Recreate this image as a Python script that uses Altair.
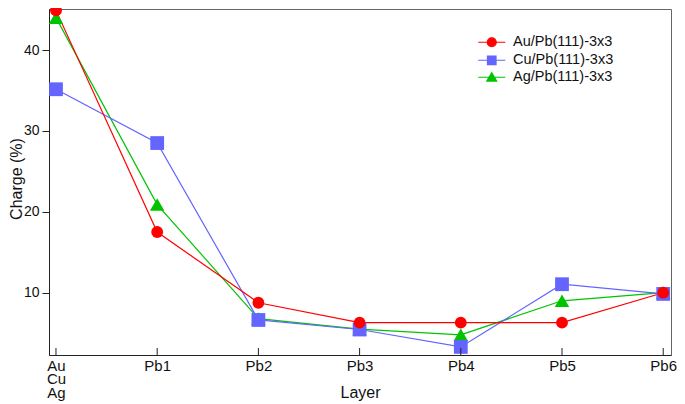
import altair as alt
import pandas as pd

layers_idx = [0, 1, 2, 3, 4, 5, 6]
layer_names = ["Au Cu Ag", "Pb1", "Pb2", "Pb3", "Pb4", "Pb5", "Pb6"]
series_names = ["Au/Pb(111)-3x3", "Cu/Pb(111)-3x3", "Ag/Pb(111)-3x3"]
au_vals = [44.9, 17.5, 8.76, 6.3, 6.3, 6.3, 10.0]
cu_vals = [35.15, 28.5, 6.63, 5.45, 3.3, 11.05, 9.85]
ag_vals = [44.0, 20.9, 6.8, 5.5, 4.8, 9.0, 10.0]
colors = ["#ff0000", "#6464ff", "#00c400"]
shapes = ["circle", "square", "triangle-up"]
sizes = [140, 190, 210]

rows = []
for name, vals in zip(series_names, [au_vals, cu_vals, ag_vals]):
    for i, v in zip(layers_idx, vals):
        rows.append({"layer": i, "charge": v, "series": name})
df = pd.DataFrame(rows)
ticks_df = pd.DataFrame({"layer": layers_idx})

FONT = "Liberation Sans"

x_enc = alt.X(
    "layer:Q",
    scale=alt.Scale(domain=[-0.069, 6.077], nice=False, zero=False),
    axis=alt.Axis(
        values=layers_idx,
        labelExpr="datum.value == 0 ? ['Au','Cu','Ag'] : 'Pb' + datum.value",
        ticks=False,
        labelPadding=3,
        labelFontSize=15,
        labelLineHeight=13.5,
        labelColor="#111",
        labelFont=FONT,
        grid=False,
        domainColor="#222",
        title="Layer",
        titleFontSize=16,
        titleFontWeight="normal",
        titleFont=FONT,
        titleColor="#111",
        titleBaseline="top",
        titleY=29,
    ),
)
y_enc = alt.Y(
    "charge:Q",
    scale=alt.Scale(domain=[2.3, 45.07], nice=False, zero=False),
    axis=alt.Axis(
        values=[10, 20, 30, 40],
        tickSize=7,
        tickColor="#222",
        labelPadding=3,
        labelFontSize=14,
        labelColor="#111",
        labelFont=FONT,
        grid=False,
        domainColor="#222",
        title="Charge (%)",
        titleFontSize=16,
        titleFontWeight="normal",
        titleFont=FONT,
        titleColor="#111",
        titleBaseline="bottom",
        titleAngle=270,
        titleX=-25,
        titleY=169.5,
    ),
)

draw_order = [2, 1, 0]
chart_layers = []
for k in draw_order:
    s = series_names[k]
    base = alt.Chart(df).transform_filter(alt.datum.series == s)
    chart_layers.append(
        base.mark_line(color=colors[k], strokeWidth=1.2).encode(x=x_enc, y=y_enc)
    )
for k in draw_order:
    s = series_names[k]
    base = alt.Chart(df).transform_filter(alt.datum.series == s)
    chart_layers.append(
        base.mark_point(
            shape=shapes[k], filled=True, size=sizes[k], color=colors[k], opacity=1
        ).encode(x=x_enc, y=y_enc)
    )

tick_layer = (
    alt.Chart(ticks_df)
    .mark_rule(color="#222", strokeWidth=1)
    .encode(x=x_enc, y=alt.value(346), y2=alt.value(339))
)
chart_layers.append(tick_layer)

legend_paths = [
    "M-3,0H3M-1,0A1,1,0,1,0,1,0A1,1,0,1,0,-1,0Z",
    "M-3,0H3M-0.95,-0.95H0.95V0.95H-0.95Z",
    "M-3,0H3M0,-1L1.1,0.85H-1.1Z",
]
leg = alt.Legend(
    title=None,
    orient="none",
    legendX=435.5,
    legendY=26,
    padding=0,
    symbolSize=81,
    symbolStrokeWidth=1.2,
    labelOffset=14,
    labelFontSize=14.5,
    labelFont=FONT,
    labelColor="#111",
    rowPadding=2,
    symbolOpacity=1,
)
col_scale = alt.Scale(domain=series_names, range=colors)
legend_layer = (
    alt.Chart(df)
    .transform_filter("false")
    .mark_point(filled=True, strokeWidth=1.2, opacity=1)
    .encode(
        x=x_enc,
        y=y_enc,
        color=alt.Color("series:N", scale=col_scale, legend=leg),
        stroke=alt.Stroke("series:N", scale=col_scale, legend=leg),
        shape=alt.Shape(
            "series:N",
            scale=alt.Scale(domain=series_names, range=legend_paths),
            legend=leg,
        ),
    )
)
chart_layers.append(legend_layer)

chart = (
    alt.layer(*chart_layers)
    .properties(
        width=622,
        height=346,
        autosize=alt.AutoSizeParams(type="none"),
        padding={"left": 41, "top": 1, "right": 6, "bottom": 46},
        background="white",
    )
    .configure_view(stroke="#666", strokeWidth=1)
)

chart.save("out.html", embed_options={"renderer": "svg", "actions": False})
